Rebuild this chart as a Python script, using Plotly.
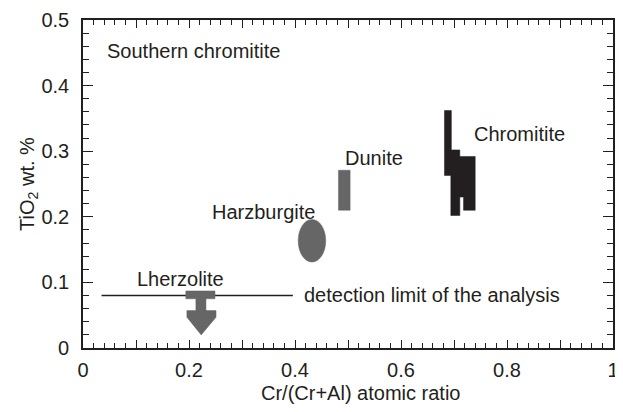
import plotly.graph_objects as go

# ---- data ----
x_ticks = [0, 0.2, 0.4, 0.6, 0.8, 1]
x_tick_labels = ["0", "0.2", "0.4", "0.6", "0.8", "1"]
x_unlabelled_major = [0.1, 0.3, 0.5, 0.7, 0.9]
y_ticks = [0, 0.1, 0.2, 0.3, 0.4, 0.5]
y_tick_labels = ["0", "0.1", "0.2", "0.3", "0.4", "0.5"]

# detection limit line
detect_x = [0.035, 0.396]
detect_y = [0.08, 0.08]

# Chromitite field (polygon outline)
chrom_x = [0.682, 0.695, 0.695, 0.711, 0.711, 0.740, 0.740, 0.718, 0.718, 0.711, 0.711, 0.694, 0.694, 0.682, 0.682]
chrom_y = [0.362, 0.362, 0.302, 0.302, 0.292, 0.292, 0.210, 0.210, 0.230, 0.230, 0.202, 0.202, 0.263, 0.263, 0.362]

# Dunite field (rectangle)
dunite_x = [0.482, 0.504]
dunite_y = [0.210, 0.271]

# Harzburgite field (ellipse bounding box)
harz_x = [0.406, 0.458]
harz_y = [0.131, 0.196]

# Lherzolite: below detection limit (arrow symbol)
lherz_x = [0.194, 0.249, 0.249, 0.232, 0.232, 0.251, 0.251, 0.223, 0.196, 0.196, 0.213, 0.213, 0.194, 0.194]
lherz_y = [0.087, 0.087, 0.075, 0.075, 0.057, 0.057, 0.047, 0.020, 0.047, 0.057, 0.057, 0.075, 0.075, 0.087]

labels = ["Southern chromitite", "Chromitite", "Dunite", "Harzburgite", "Lherzolite",
          "detection limit of the analysis"]
label_x = [0.042, 0.734, 0.491, 0.240, 0.098, 0.413]
label_y = [0.452, 0.326, 0.290, 0.207, 0.105, 0.081]

TEXT = "#231f20"
GRAY = "#666666"
FONT = "Liberation Sans, Arial, Helvetica, sans-serif"
FS = 20

fig = go.Figure()

fig.add_trace(go.Scatter(x=detect_x, y=detect_y, mode="lines",
                         line=dict(color=TEXT, width=1.5), hoverinfo="skip"))
fig.add_trace(go.Scatter(x=chrom_x, y=chrom_y, mode="lines", fill="toself",
                         fillcolor=TEXT, line=dict(color=TEXT, width=0.5), hoverinfo="skip"))
fig.add_trace(go.Scatter(x=lherz_x, y=lherz_y, mode="lines", fill="toself",
                         fillcolor=GRAY, line=dict(color=GRAY, width=0.5), hoverinfo="skip"))
# invisible trace on overlay axis so it renders
fig.add_trace(go.Scatter(x=[0], y=[0], xaxis="x2", mode="markers",
                         marker=dict(opacity=0), hoverinfo="skip"))

fig.add_shape(type="rect", xref="x", yref="y",
              x0=dunite_x[0], x1=dunite_x[1], y0=dunite_y[0], y1=dunite_y[1],
              fillcolor=GRAY, line=dict(color=GRAY, width=0.5))
fig.add_shape(type="circle", xref="x", yref="y",
              x0=harz_x[0], x1=harz_x[1], y0=harz_y[0], y1=harz_y[1],
              fillcolor=GRAY, line=dict(color=GRAY, width=0.5))

for t, lx, ly in zip(labels, label_x, label_y):
    fig.add_annotation(x=lx, y=ly, xref="x", yref="y", text=t, showarrow=False,
                       xanchor="left", yanchor="middle",
                       font=dict(family=FONT, size=FS, color=TEXT))

# axis titles
fig.add_annotation(x=0.523, y=-0.099, xref="paper", yref="paper",
                   text="Cr/(Cr+Al) atomic ratio", showarrow=False,
                   xanchor="center", yanchor="top",
                   font=dict(family=FONT, size=FS, color=TEXT))
fig.add_annotation(x=-0.104, y=0.5, xref="paper", yref="paper",
                   text="TiO<sub>2</sub> wt. %", showarrow=False, textangle=-90,
                   xanchor="center", yanchor="middle",
                   font=dict(family=FONT, size=FS, color=TEXT))

axis_common = dict(showgrid=False, zeroline=False, showline=True, linecolor=TEXT,
                   linewidth=1.6, mirror="ticks", ticks="inside", tickcolor=TEXT,
                   tickwidth=1.3, automargin=False, ticklabeloverflow="allow",
                   tickfont=dict(family=FONT, size=FS, color=TEXT))

fig.update_layout(
    xaxis=dict(range=[0, 1], tickvals=x_ticks, ticktext=x_tick_labels,
               ticklen=8, ticklabelstandoff=3,
               minor=dict(dtick=0.02, tick0=0, ticks="inside", ticklen=5,
                          tickcolor=TEXT, tickwidth=1.3),
               **axis_common),
    xaxis2=dict(range=[0, 1], overlaying="x", side="bottom", tickvals=x_unlabelled_major,
                showticklabels=False, ticks="inside", ticklen=8, tickcolor=TEXT,
                tickwidth=1.3, mirror="ticks", showline=False, showgrid=False,
                zeroline=False, automargin=False),
    yaxis=dict(range=[0, 0.5], tickvals=y_ticks, ticktext=y_tick_labels,
               ticklen=10, ticklabelstandoff=8,
               minor=dict(dtick=0.02, tick0=0, ticks="inside", ticklen=6,
                          tickcolor=TEXT, tickwidth=1.3),
               **axis_common),
)

# page body adds an 8px offset; margins compensate so the plot box lands at
# about x 83..613, y 20..348 in the window
fig.update_layout(width=623, height=412, showlegend=False,
                  margin=dict(l=75, r=18, t=12, b=72),
                  plot_bgcolor="white", paper_bgcolor="white")

fig.write_html("out.html")
